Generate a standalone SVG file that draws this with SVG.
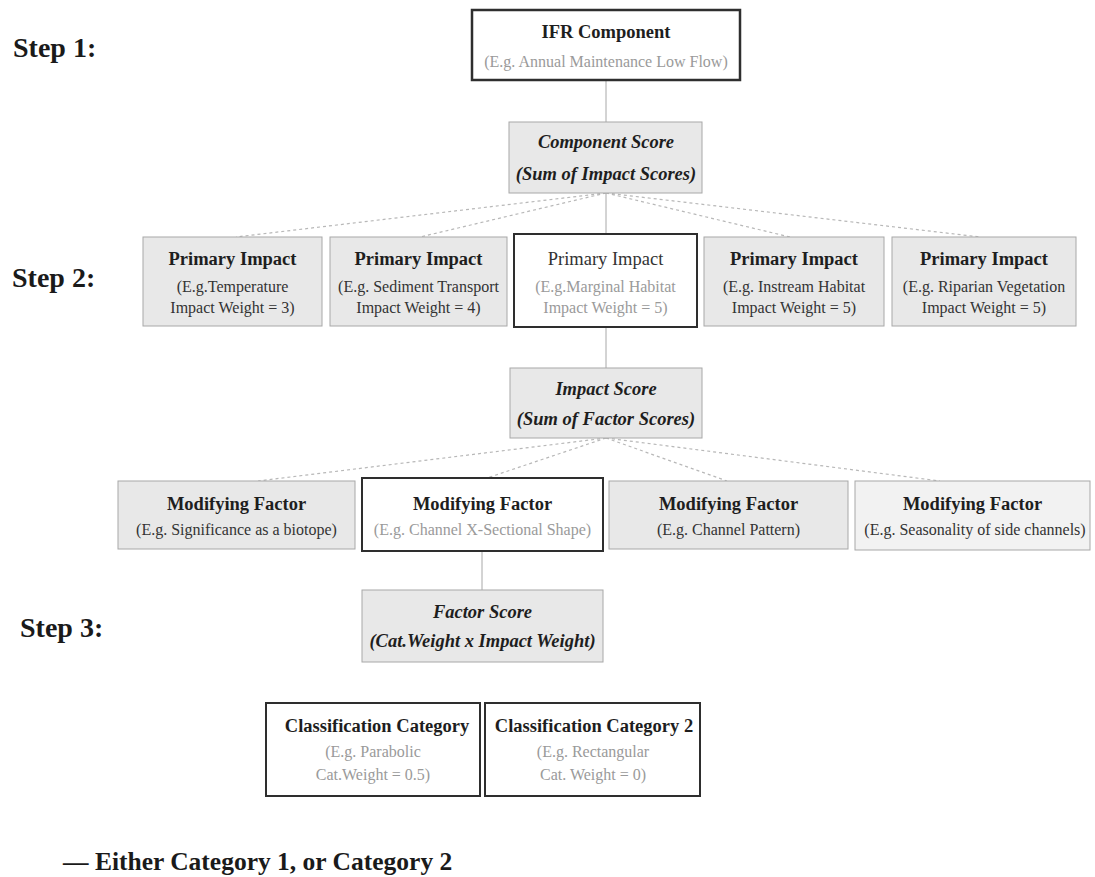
<svg xmlns="http://www.w3.org/2000/svg" width="1095" height="877" viewBox="0 0 1095 877">
<style>
text{font-family:"Liberation Serif","Times New Roman",serif;text-anchor:middle}
.g{fill:#e8e8e8;stroke:#a8a8a8;stroke-width:1}
.w{fill:#ffffff;stroke:#2e2e2e;stroke-width:2}
.t{font-size:18.5px;font-weight:bold;fill:#1e1e1e}
.tn{font-size:18.5px;fill:#333}
.s{font-size:16px;fill:#333}
.sl{font-size:16px;fill:#9a9a9a}
.bi{font-size:18.5px;font-weight:bold;font-style:italic;fill:#1e1e1e}
.step{font-size:28px;font-weight:bold;fill:#1a1a1a;text-anchor:start}
.leg{font-size:25.5px;font-weight:bold;fill:#1a1a1a;text-anchor:start}
.solid{stroke:#a8a8a8;stroke-width:1;fill:none}
.dash{stroke:#b8b8b8;stroke-width:1.2;stroke-dasharray:3 3;fill:none}
</style>
<rect width="1095" height="877" fill="#ffffff"/>
<g id="connectors">
<line class="solid" x1="606" y1="80" x2="606" y2="122"/>
<line class="solid" x1="606" y1="193" x2="606" y2="234"/>
<line class="solid" x1="606" y1="327" x2="606" y2="368"/>
<line class="solid" x1="482" y1="551" x2="482" y2="590"/>
<line class="dash" x1="606" y1="193" x2="236" y2="237"/>
<line class="dash" x1="606" y1="193" x2="420" y2="237"/>
<line class="dash" x1="606" y1="193" x2="790" y2="237"/>
<line class="dash" x1="606" y1="193" x2="980" y2="237"/>
<line class="dash" x1="606" y1="438" x2="258" y2="481"/>
<line class="dash" x1="606" y1="438" x2="487" y2="478"/>
<line class="dash" x1="606" y1="438" x2="727" y2="481"/>
<line class="dash" x1="606" y1="438" x2="940" y2="481"/>
</g>
<g id="labels">
<text class="step" x="13" y="57">Step 1:</text>
<text class="step" x="12" y="287">Step 2:</text>
<text class="step" x="20" y="637">Step 3:</text>
<text class="leg" x="63" y="870">— Either Category 1, or Category 2</text>
</g>
<g id="ifr">
<rect class="w" x="472" y="10" width="268" height="70" style="stroke-width:2.5"/>
<text class="t" x="606" y="38">IFR Component</text>
<text class="sl" x="606" y="67">(E.g. Annual Maintenance Low Flow)</text>
</g>
<g id="component-score">
<rect class="g" x="509" y="122" width="193" height="71"/>
<text class="bi" x="606" y="148">Component Score</text>
<text class="bi" x="606" y="180">(Sum of Impact Scores)</text>
</g>
<g id="pi1">
<rect class="g" x="143" y="237" width="179" height="89"/>
<text class="t" x="232.5" y="265">Primary Impact</text>
<text class="s" x="232.5" y="292">(E.g.Temperature</text>
<text class="s" x="232.5" y="313">Impact Weight = 3)</text>
</g>
<g id="pi2">
<rect class="g" x="330" y="237" width="177" height="89"/>
<text class="t" x="418.5" y="265">Primary Impact</text>
<text class="s" x="418.5" y="292">(E.g. Sediment Transport</text>
<text class="s" x="418.5" y="313">Impact Weight = 4)</text>
</g>
<g id="pi3">
<rect class="w" x="514" y="234" width="183" height="93"/>
<text class="tn" x="605.5" y="265">Primary Impact</text>
<text class="sl" x="605.5" y="292">(E.g.Marginal Habitat</text>
<text class="sl" x="605.5" y="313">Impact Weight = 5)</text>
</g>
<g id="pi4">
<rect class="g" x="704" y="237" width="180" height="89"/>
<text class="t" x="794" y="265">Primary Impact</text>
<text class="s" x="794" y="292">(E.g. Instream Habitat</text>
<text class="s" x="794" y="313">Impact Weight = 5)</text>
</g>
<g id="pi5">
<rect class="g" x="892" y="237" width="184" height="89"/>
<text class="t" x="984" y="265">Primary Impact</text>
<text class="s" x="984" y="292">(E.g. Riparian Vegetation</text>
<text class="s" x="984" y="313">Impact Weight = 5)</text>
</g>
<g id="impact-score">
<rect class="g" x="510" y="368" width="192" height="70"/>
<text class="bi" x="606" y="395">Impact Score</text>
<text class="bi" x="606" y="425">(Sum of Factor Scores)</text>
</g>
<g id="mf1">
<rect class="g" x="118" y="481" width="237" height="68"/>
<text class="t" x="236.5" y="510">Modifying Factor</text>
<text class="s" x="236.5" y="535">(E.g. Significance as a biotope)</text>
</g>
<g id="mf2">
<rect class="w" x="362" y="478" width="241" height="73"/>
<text class="t" x="482.5" y="510">Modifying Factor</text>
<text class="sl" x="482.5" y="535">(E.g. Channel X-Sectional Shape)</text>
</g>
<g id="mf3">
<rect class="g" x="609" y="481" width="239" height="68"/>
<text class="t" x="728.5" y="510">Modifying Factor</text>
<text class="s" x="728.5" y="535">(E.g. Channel Pattern)</text>
</g>
<g id="mf4">
<rect class="g" x="855" y="481" width="235" height="69" style="fill:#f2f2f2"/>
<text class="t" x="972.5" y="510">Modifying Factor</text>
<text class="s" x="975" y="535">(E.g. Seasonality of side channels)</text>
</g>
<g id="factor-score">
<rect class="g" x="362" y="590" width="241" height="72"/>
<text class="bi" x="482.5" y="618">Factor Score</text>
<text class="bi" x="482.5" y="647">(Cat.Weight x Impact Weight)</text>
</g>
<g id="cat1">
<rect class="w" x="266" y="703" width="214" height="93"/>
<text class="t" x="377" y="732">Classification Category</text>
<text class="sl" x="373" y="757">(E.g. Parabolic</text>
<text class="sl" x="373" y="780">Cat.Weight = 0.5)</text>
</g>
<g id="cat2">
<rect class="w" x="485" y="703" width="215" height="93"/>
<text class="t" x="594" y="732">Classification Category 2</text>
<text class="sl" x="593" y="757">(E.g. Rectangular</text>
<text class="sl" x="593" y="780">Cat. Weight = 0)</text>
</g>
</svg>
